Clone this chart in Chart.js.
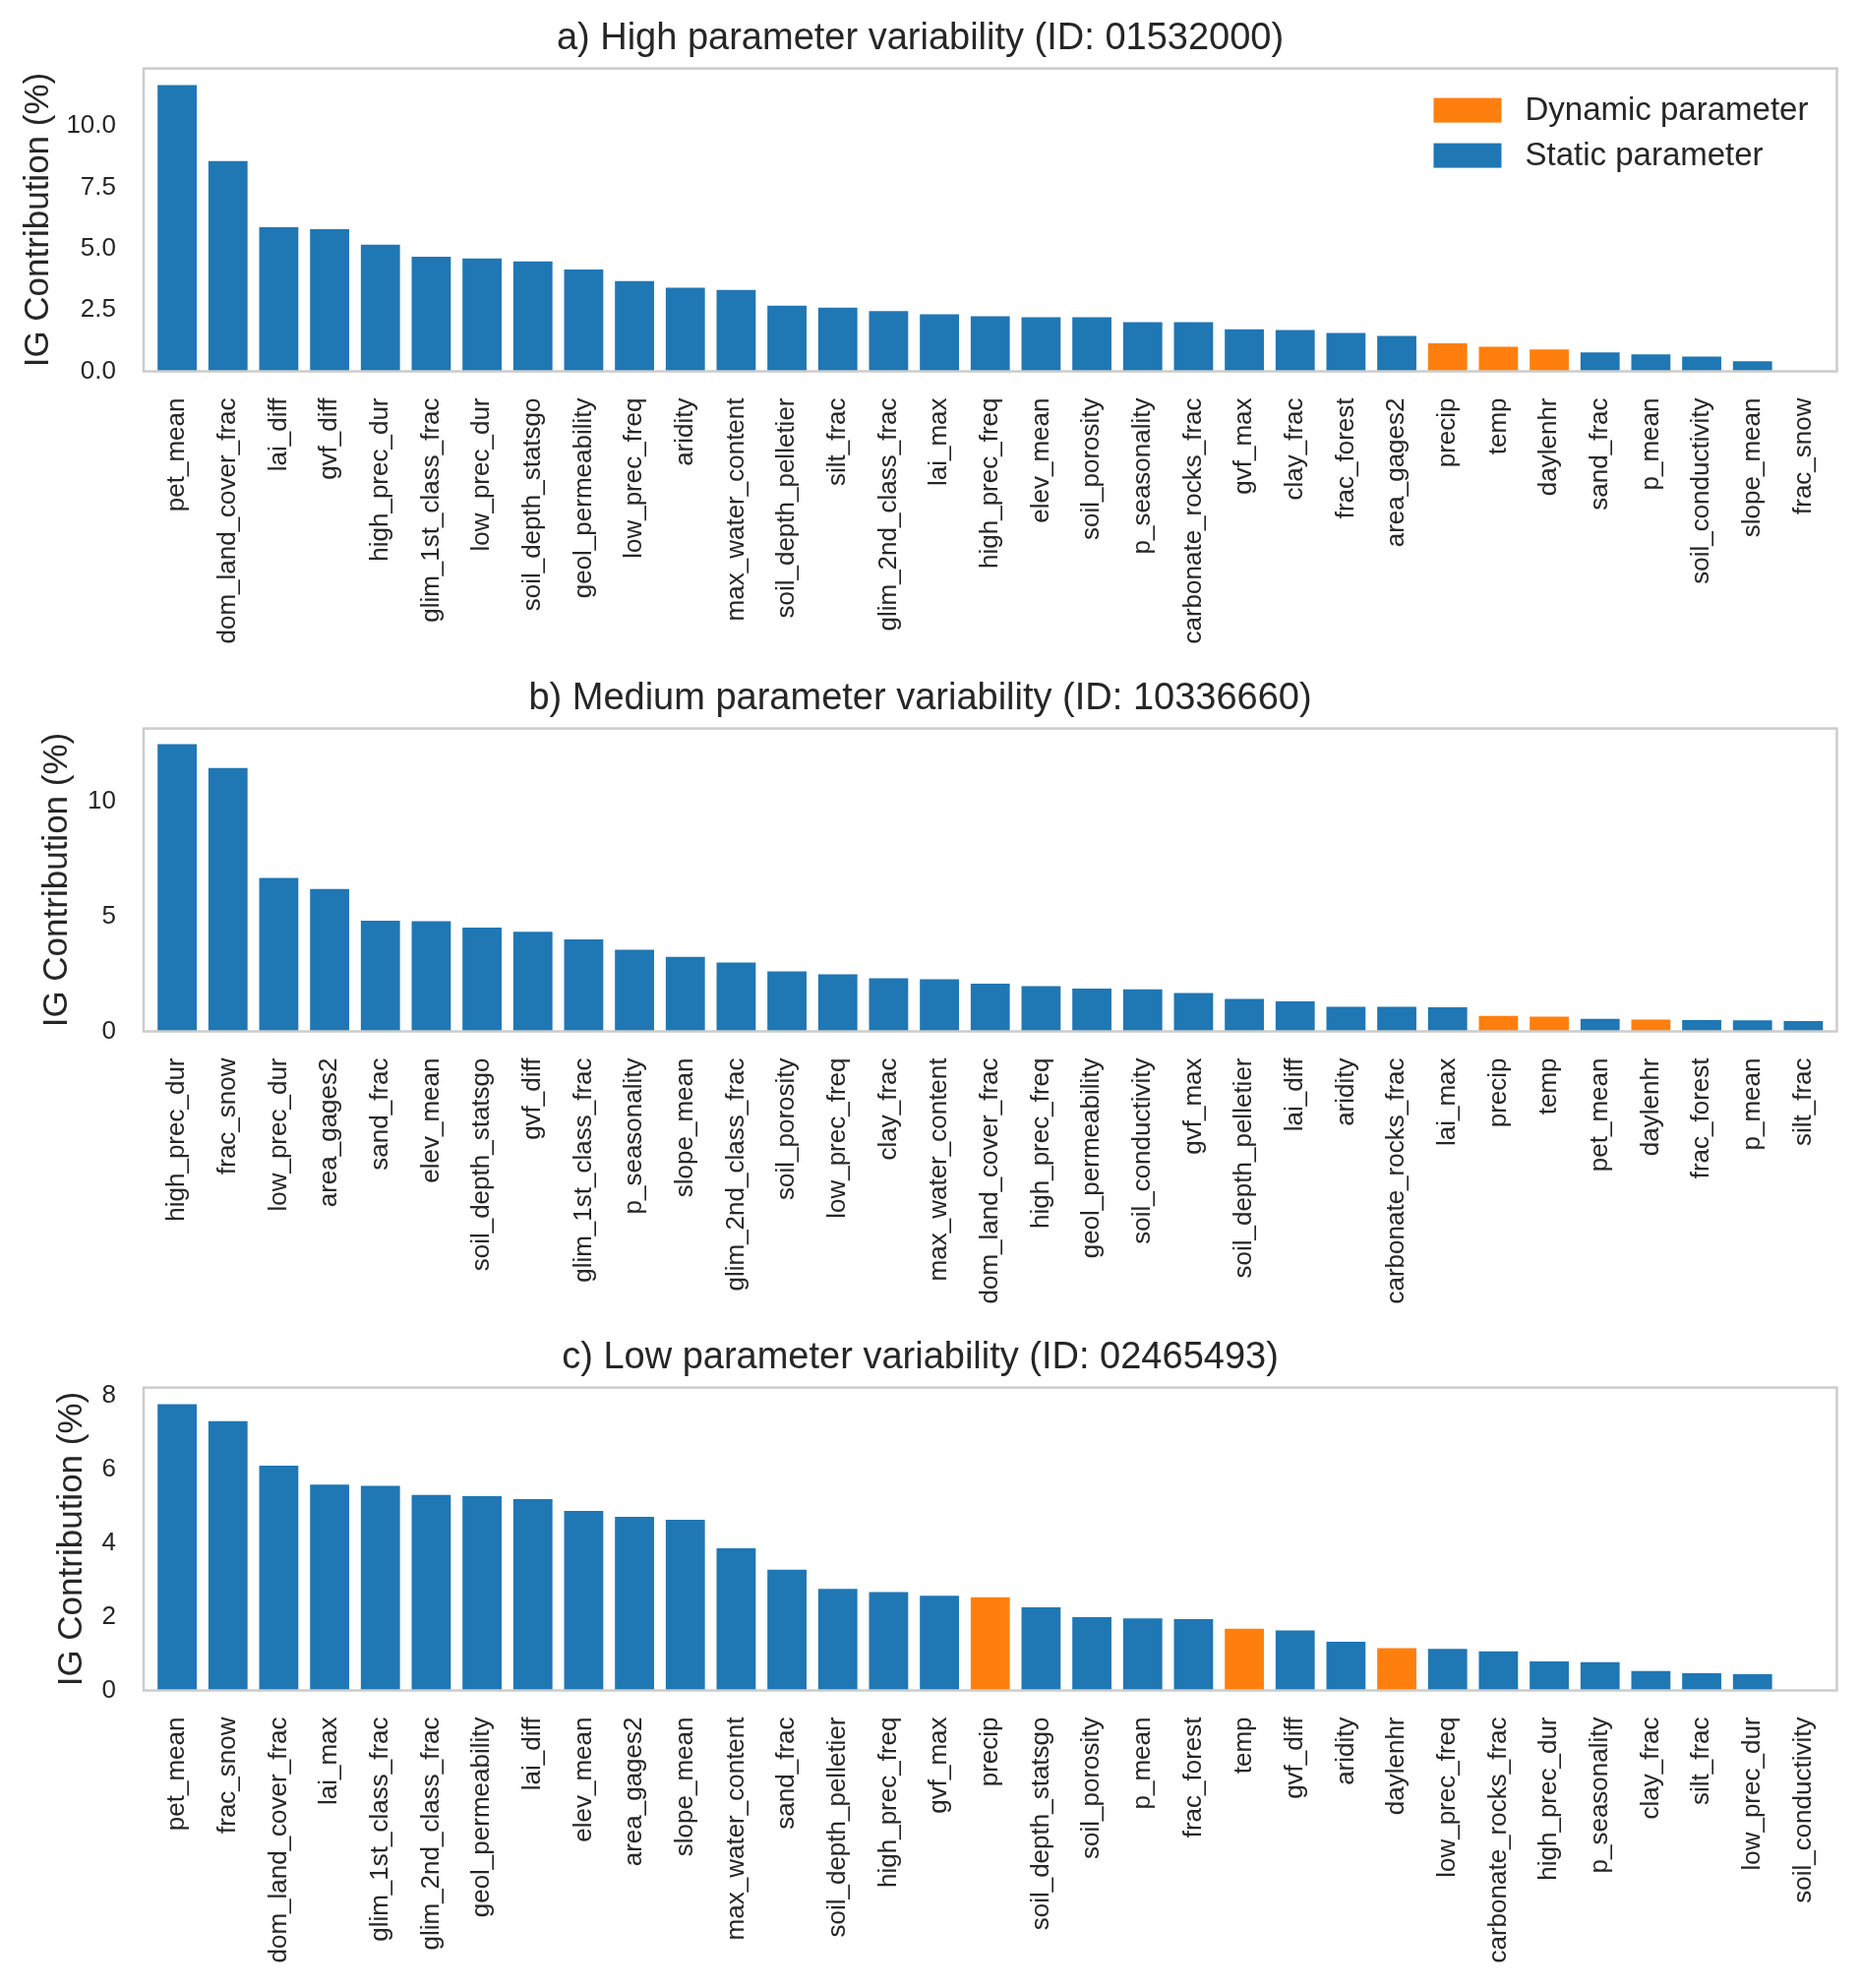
<!DOCTYPE html>
<html lang="en">
<head>
<meta charset="UTF-8">
<title>IG Contribution per parameter</title>
<script src="https://cdn.jsdelivr.net/npm/chart.js"></script>
<style>
  body { margin: 0; background: #fff; }
  canvas { position: absolute; left: 0; }
</style>
</head>
<body>
<canvas id="chartA" width="1892" height="672" style="top:0px"></canvas>
<canvas id="chartB" width="1892" height="672" style="top:671px"></canvas>
<canvas id="chartC" width="1892" height="680" style="top:1341px"></canvas>

<script>
// a) High parameter variability
const namesA = ['pet_mean', 'dom_land_cover_frac', 'lai_diff', 'gvf_diff', 'high_prec_dur', 'glim_1st_class_frac',
  'low_prec_dur', 'soil_depth_statsgo', 'geol_permeability', 'low_prec_freq', 'aridity', 'max_water_content',
  'soil_depth_pelletier', 'silt_frac', 'glim_2nd_class_frac', 'lai_max', 'high_prec_freq', 'elev_mean',
  'soil_porosity', 'p_seasonality', 'carbonate_rocks_frac', 'gvf_max', 'clay_frac', 'frac_forest',
  'area_gages2', 'precip', 'temp', 'daylenhr', 'sand_frac', 'p_mean', 'soil_conductivity', 'slope_mean', 'frac_snow'];
const valuesA = [11.66, 8.57, 5.87, 5.79, 5.16, 4.67, 4.60, 4.48, 4.15, 3.68, 3.41, 3.32,
  2.68, 2.60, 2.45, 2.32, 2.24, 2.20, 2.20, 2.00, 2.00, 1.71, 1.68, 1.56,
  1.44, 1.14, 1.00, 0.89, 0.77, 0.69, 0.60, 0.41, 0];

// b) Medium parameter variability
const namesB = ['high_prec_dur', 'frac_snow', 'low_prec_dur', 'area_gages2', 'sand_frac', 'elev_mean',
  'soil_depth_statsgo', 'gvf_diff', 'glim_1st_class_frac', 'p_seasonality', 'slope_mean', 'glim_2nd_class_frac',
  'soil_porosity', 'low_prec_freq', 'clay_frac', 'max_water_content', 'dom_land_cover_frac', 'high_prec_freq',
  'geol_permeability', 'soil_conductivity', 'gvf_max', 'soil_depth_pelletier', 'lai_diff', 'aridity',
  'carbonate_rocks_frac', 'lai_max', 'precip', 'temp', 'pet_mean', 'daylenhr', 'frac_forest', 'p_mean', 'silt_frac'];
const valuesB = [12.52, 11.48, 6.69, 6.21, 4.82, 4.80, 4.52, 4.34, 4.01, 3.56, 3.25, 3.00,
  2.62, 2.49, 2.31, 2.27, 2.08, 1.97, 1.87, 1.83, 1.67, 1.41, 1.31, 1.07,
  1.07, 1.05, 0.68, 0.64, 0.55, 0.51, 0.49, 0.48, 0.45];

// c) Low parameter variability
const namesC = ['pet_mean', 'frac_snow', 'dom_land_cover_frac', 'lai_max', 'glim_1st_class_frac', 'glim_2nd_class_frac',
  'geol_permeability', 'lai_diff', 'elev_mean', 'area_gages2', 'slope_mean', 'max_water_content',
  'sand_frac', 'soil_depth_pelletier', 'high_prec_freq', 'gvf_max', 'precip', 'soil_depth_statsgo',
  'soil_porosity', 'p_mean', 'frac_forest', 'temp', 'gvf_diff', 'aridity',
  'daylenhr', 'low_prec_freq', 'carbonate_rocks_frac', 'high_prec_dur', 'p_seasonality', 'clay_frac',
  'silt_frac', 'low_prec_dur', 'soil_conductivity'];
const valuesC = [7.78, 7.32, 6.11, 5.59, 5.56, 5.31, 5.28, 5.20, 4.88, 4.72, 4.64, 3.86,
  3.28, 2.76, 2.67, 2.57, 2.53, 2.26, 1.99, 1.96, 1.94, 1.68, 1.63, 1.32,
  1.15, 1.13, 1.06, 0.79, 0.77, 0.53, 0.47, 0.44, 0];

const dynamicParams = ['precip', 'temp', 'daylenhr'];

const yTicksA = [0, 2.5, 5, 7.5, 10];
const yTickLabelsA = ['0.0', '2.5', '5.0', '7.5', '10.0'];
const yTicksB = [0, 5, 10];
const yTickLabelsB = ['0', '5', '10'];
const yTicksC = [0, 2, 4, 6, 8];
const yTickLabelsC = ['0', '2', '4', '6', '8'];

const legendLabels = ['Dynamic parameter', 'Static parameter'];

const BLUE = '#1f77b4';
const ORANGE = '#ff7f0e';
const TEXT = '#262626';
const FONT = '"Liberation Sans", Arial, Helvetica, sans-serif';

// grey box around the plot area (seaborn style spines)
const framePlugin = {
  id: 'frame',
  afterDraw(chart) {
    const { ctx, chartArea: a } = chart;
    ctx.save();
    ctx.strokeStyle = '#cccccc';
    ctx.lineWidth = 2.5;
    ctx.strokeRect(a.left, a.top, a.right - a.left, a.bottom - a.top);
    ctx.restore();
  }
};

// legend drawn inside the plot, top right corner
const cornerLegend = {
  id: 'cornerLegend',
  afterDraw(chart) {
    const { ctx, chartArea: a } = chart;
    const colors = [ORANGE, BLUE];
    ctx.save();
    ctx.font = '33px ' + FONT;
    ctx.textBaseline = 'middle';
    ctx.textAlign = 'left';
    legendLabels.forEach((txt, i) => {
      const y = a.top + 30 + i * 46;
      ctx.fillStyle = colors[i];
      ctx.fillRect(a.right - 410, y, 69, 25);
      ctx.fillStyle = TEXT;
      ctx.fillText(txt, a.right - 317, y + 13);
    });
    ctx.restore();
  }
};

// labelPad: distance of the y title from the left edge (sits next to the tick labels)
function makeChart(id, title, names, values, yMax, yTicks, yTickLabels, labelPad, withLegend) {
  const canvas = document.getElementById(id);
  const h = canvas.height;
  const points = names.map((n, i) => ({ x: i, y: values[i] }));
  const colors = names.map(n => dynamicParams.includes(n) ? ORANGE : BLUE);
  const plugins = [framePlugin];
  if (withLegend) plugins.push(cornerLegend);

  return new Chart(canvas, {
    type: 'bar',
    data: {
      datasets: [{
        data: points,
        backgroundColor: colors,
        borderWidth: 0,
        categoryPercentage: 1.0,
        barPercentage: 0.77
      }]
    },
    plugins: plugins,
    options: {
      responsive: false,
      animation: false,
      events: [],
      layout: { padding: { left: 0, right: 21, top: 0, bottom: 0 } },
      plugins: {
        legend: { display: false },
        tooltip: { enabled: false },
        title: {
          display: true,
          text: title,
          color: TEXT,
          font: { family: FONT, size: 38, weight: 'normal', lineHeight: 1.2 },
          padding: { top: 17, bottom: 7 }
        }
      },
      scales: {
        x: {
          type: 'linear',
          offset: false,
          min: -0.66,
          max: names.length - 1 + 0.66,
          grid: { display: false, drawTicks: false, offset: false },
          border: { display: false },
          afterBuildTicks: s => { s.ticks = names.map((n, i) => ({ value: i })); },
          afterFit: s => { s.height = h - 377.5; },
          ticks: {
            autoSkip: false,
            minRotation: 90,
            maxRotation: 90,
            padding: 27,
            color: TEXT,
            font: { family: FONT, size: 26 },
            callback: v => names[v]
          }
        },
        y: {
          min: 0,
          max: yMax,
          grid: { display: false, drawTicks: false },
          border: { display: false },
          afterBuildTicks: s => { s.ticks = yTicks.map(v => ({ value: v })); },
          afterFit: s => { s.width = 146; },
          ticks: {
            padding: 28,
            color: TEXT,
            font: { family: FONT, size: 26 },
            callback: (v, i) => yTickLabels[i]
          },
          title: {
            display: true,
            text: 'IG Contribution (%)',
            color: TEXT,
            font: { family: FONT, size: 35, lineHeight: 1.2 },
            padding: { top: labelPad, bottom: 0 }
          }
        }
      }
    }
  });
}

makeChart('chartA', 'a) High parameter variability (ID: 01532000)', namesA, valuesA, 12.34, yTicksA, yTickLabelsA, 18, true);
makeChart('chartB', 'b) Medium parameter variability (ID: 10336660)', namesB, valuesB, 13.2, yTicksB, yTickLabelsB, 37, false);
makeChart('chartC', 'c) Low parameter variability (ID: 02465493)', namesC, valuesC, 8.23, yTicksC, yTickLabelsC, 52, false);
</script>
</body>
</html>
